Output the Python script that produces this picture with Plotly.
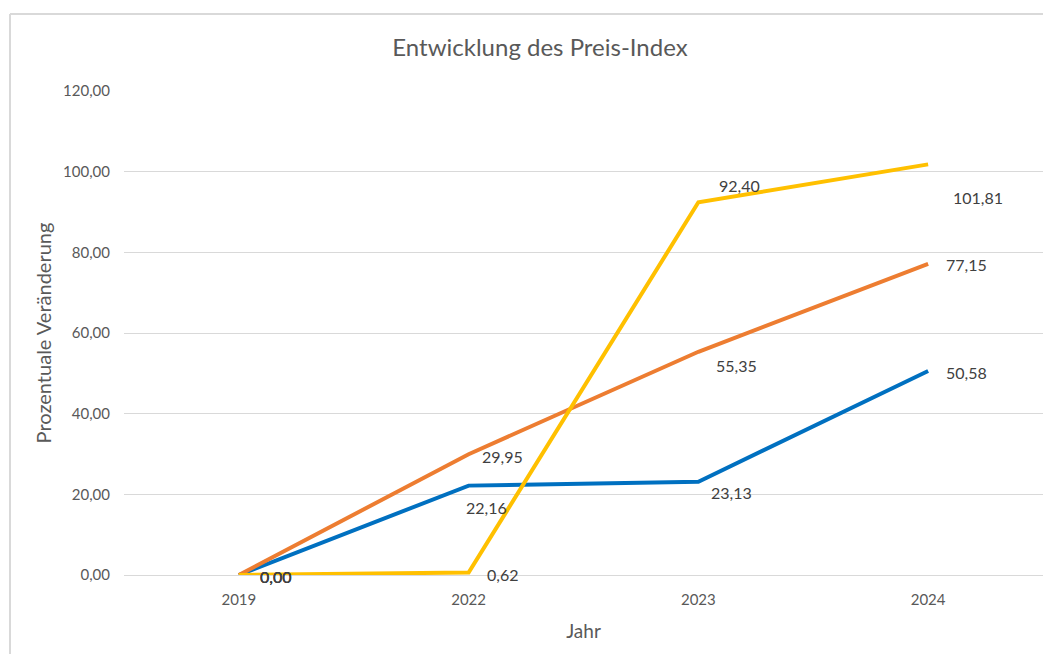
import plotly.graph_objects as go

years = ["2019", "2022", "2023", "2024"]
series_names = ["Serie 1", "Serie 2", "Serie 3"]
blue_vals = [0.00, 22.16, 23.13, 50.58]
orange_vals = [0.00, 29.95, 55.35, 77.15]
yellow_vals = [0.00, 0.62, 92.40, 101.81]
y_ticks = [0, 20, 40, 60, 80, 100, 120]

colors = ["#0070C0", "#ED7D31", "#FFC000"]
# label pixel offsets (dx, dy) per series per point (styling only)
offsets = [
    [(37, -1), (18, -22), (33, -11), (38, -2)],
    [(37, -1), (34, -2), (38, -14), (38, -1)],
    [(37, -1), (34, -2), (41, 17), (50, -33)],
]

def de(v):
    return f"{v:.2f}".replace(".", ",")

font_fam = "Lato, Open Sans, sans-serif"

fig = go.Figure()
all_vals = [blue_vals, orange_vals, yellow_vals]
for name, vals, col in zip(series_names, all_vals, colors):
    fig.add_trace(go.Scatter(x=years, y=vals, mode="lines", name=name,
                             line=dict(color=col, width=4), showlegend=False))

annotations = []
for vals, offs in zip(all_vals, offsets):
    for i, (v, (dx, dy)) in enumerate(zip(vals, offs)):
        annotations.append(dict(x=i, y=v, xref="x", yref="y", text=de(v),
                                showarrow=False, xshift=dx, yshift=dy,
                                font=dict(family=font_fam, size=16, color="#404040")))

W, H = 1035, 646
fig.update_layout(
    width=W, height=H,
    margin=dict(l=116, r=0, t=83, b=79),
    paper_bgcolor="white", plot_bgcolor="white",
    separators=",.",
    title=dict(text="Entwicklung des Preis-Index", x=(540 - 8) / W, xanchor="center",
               y=1 - 40 / H, yanchor="middle",
               font=dict(family=font_fam, size=24, color="#595959")),
    xaxis=dict(type="category", range=[-0.5, 3.5], showgrid=False, showline=True,
               linecolor="#d9d9d9", linewidth=1,
               ticks="outside", ticklen=11, tickcolor="rgba(0,0,0,0)",
               tickfont=dict(family=font_fam, size=15, color="#595959"),
               title=dict(text="Jahr", font=dict(family=font_fam, size=19, color="#595959"), standoff=17)),
    yaxis=dict(range=[0, 120], tickvals=y_ticks, tickformat=".2f",
               showgrid=True, gridcolor="#d9d9d9", gridwidth=1, zeroline=False,
               ticks="outside", ticklen=10, tickcolor="rgba(0,0,0,0)",
               tickfont=dict(family=font_fam, size=15, color="#595959"),
               title=dict(text="Prozentuale Veränderung", font=dict(family=font_fam, size=20, color="#595959"), standoff=6)),
    annotations=annotations,
    shapes=[
        dict(type="line", xref="paper", yref="paper", x0=-114/919, x1=1.05, y0=1 + 77/484, y1=1 + 77/484,
             line=dict(color="#d9d9d9", width=2)),
        dict(type="line", xref="paper", yref="paper", x0=-114/919, x1=-114/919, y0=1 + 77/484, y1=-0.3,
             line=dict(color="#d9d9d9", width=2)),
    ],
)

fig.write_html("out.html")
